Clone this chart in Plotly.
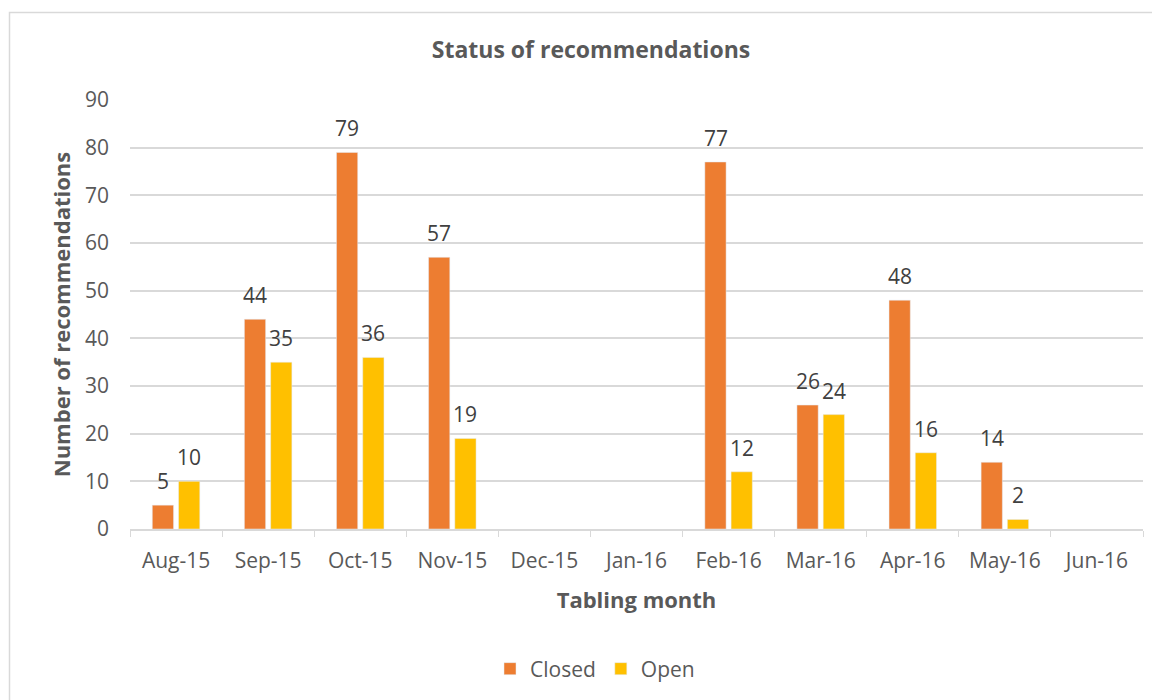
import plotly.graph_objects as go

months = ["Aug-15", "Sep-15", "Oct-15", "Nov-15", "Dec-15", "Jan-16",
          "Feb-16", "Mar-16", "Apr-16", "May-16", "Jun-16"]
closed = [5, 44, 79, 57, None, None, 77, 26, 48, 14, None]
open_ = [10, 35, 36, 19, None, None, 12, 24, 16, 2, None]

W, H = 1160, 700
OFF = 8  # the page body has an 8px margin; shift everything up/left
L, R, T, B = 130 - OFF, 17 + OFF, 100 - OFF, 171 + OFF
pw = W - L - R
ph = H - T - B

FONT = "Open Sans"
GREY = "#595959"
LBL = "#404040"

fig = go.Figure()
fig.add_trace(go.Bar(name="Closed", x=months, y=closed, marker_color="#ED7D31"))
fig.add_trace(go.Bar(name="Open", x=months, y=open_, marker_color="#FFC000"))

# data labels above bars
for series, dx in ((closed, -13), (open_, 13)):
    for m, v in zip(months, series):
        if v is None:
            continue
        fig.add_annotation(x=m, y=v, xref="x", yref="y", text=str(v),
                           showarrow=False, xshift=dx, yshift=24,
                           yanchor="middle", xanchor="center",
                           font=dict(size=21, color=LBL, family=FONT))

fig.update_layout(
    width=W, height=H,
    margin=dict(l=L, r=R, t=T, b=B),
    paper_bgcolor="white", plot_bgcolor="white",
    font=dict(family=FONT, color=GREY, size=21),
    barmode="group", bargap=0.43, bargroupgap=0.19,
    title=dict(text="<b>Status of recommendations</b>", x=(591 - OFF) / W, xanchor="center",
               y=1 - (50 - OFF) / H, yanchor="middle", font=dict(size=23, color=GREY, family=FONT)),
    xaxis=dict(
        title=dict(text="<b>Tabling month</b>", font=dict(size=22, color=GREY), standoff=20),
        showline=True, linecolor="#d9d9d9", linewidth=1.5,
        ticks="outside", tickson="boundaries", ticklen=6, tickcolor="#d9d9d9",
        tickfont=dict(size=21, color=GREY), showgrid=False,
        ticklabelstandoff=12,
    ),
    yaxis=dict(
        title=dict(text="<b>Number of recommendations</b>", font=dict(size=22, color=GREY), standoff=8),
        range=[0, 90], dtick=10, showgrid=True, gridcolor="#d9d9d9", gridwidth=1.5,
        zeroline=False, showline=False, tickfont=dict(size=21, color=GREY),
        ticklabelstandoff=20,
    ),
    legend=dict(orientation="h", x=(595 - OFF - L) / pw, xanchor="center",
                y=-(669 - OFF - (T + ph)) / ph, yanchor="middle",
                yref="paper", font=dict(size=21, color=GREY), traceorder="normal",
                itemwidth=30),
)

# chart-area border (light grey), cropped at right/bottom in the reference
fig.add_shape(type="rect", xref="paper", yref="paper",
              x0=(9.5 - OFF - L) / pw, x1=(W + 20 - L) / pw,
              y0=-(H + 20 - T - ph) / ph, y1=1 + (T - (12.5 - OFF)) / ph,
              line=dict(color="#d9d9d9", width=1.5), fillcolor="rgba(0,0,0,0)", layer="below")

fig.write_html("out.html")
